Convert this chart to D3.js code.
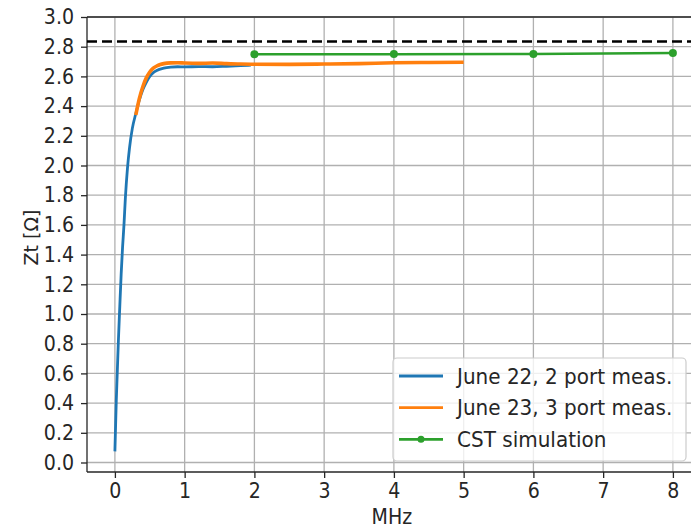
<!DOCTYPE html>
<html>
<head>
<meta charset="utf-8">
<script src="https://cdn.jsdelivr.net/npm/d3@7"></script>
<style>
  html, body { margin: 0; padding: 0; background: #fff; }
  svg { display: block; }
  text { font-family: "DejaVu Sans", sans-serif; fill: #262626; transform-box: fill-box; transform-origin: center; }
  .st { transform: scaleY(1.1); }
</style>
</head>
<body>
<svg id="chart" width="691" height="529"></svg>
<script>
// ---- data ----
const blueX = [0.00, 0.01, 0.02, 0.035, 0.05, 0.07, 0.09, 0.11, 0.13, 0.15, 0.18, 0.21, 0.25, 0.30, 0.35, 0.40, 0.45, 0.50, 0.55, 0.60, 0.70, 0.80, 0.90, 1.00, 1.20, 1.40, 1.60, 1.80, 1.95];
const blueY = [0.075, 0.25, 0.42, 0.62, 0.82, 1.05, 1.27, 1.45, 1.60, 1.78, 1.98, 2.12, 2.25, 2.35, 2.44, 2.51, 2.56, 2.60, 2.625, 2.64, 2.655, 2.662, 2.665, 2.664, 2.666, 2.665, 2.668, 2.672, 2.676];
const orangeX = [0.30, 0.35, 0.40, 0.45, 0.50, 0.55, 0.60, 0.65, 0.70, 0.80, 0.90, 1.00, 1.20, 1.40, 1.60, 1.80, 2.00, 2.50, 3.00, 3.50, 4.00, 4.50, 5.00];
const orangeY = [2.34, 2.45, 2.53, 2.59, 2.63, 2.655, 2.67, 2.68, 2.686, 2.691, 2.692, 2.690, 2.688, 2.690, 2.686, 2.683, 2.682, 2.681, 2.683, 2.686, 2.692, 2.694, 2.695];
const cstX = [2, 4, 6, 8];
const cstY = [2.749, 2.750, 2.751, 2.757];
const refLevel = 2.835;
const xTicks = [0, 1, 2, 3, 4, 5, 6, 7, 8];
const yTicks = [0.0, 0.2, 0.4, 0.6, 0.8, 1.0, 1.2, 1.4, 1.6, 1.8, 2.0, 2.2, 2.4, 2.6, 2.8, 3.0];
const seriesNames = ["June 22, 2 port meas.", "June 23, 3 port meas.", "CST simulation"];
const seriesColors = ["#1f77b4", "#ff7f0e", "#2ca02c"];

// ---- layout ----
const svg = d3.select("#chart");
const L = 87, R = 700.8, T = 17, B = 472;
const x = d3.scaleLinear().domain([-0.4, 8.4]).range([L, R]);
const y = d3.scaleLinear().domain([-0.064, 3.0]).range([B, T]);
const fs = 19;

// grid
const grid = svg.append("g");
grid.selectAll(".gx").data(xTicks).enter().append("line")
  .attr("x1", d => x(d)).attr("x2", d => x(d)).attr("y1", T).attr("y2", B)
  .attr("stroke", "#b0b0b0").attr("stroke-width", 1.3);
grid.selectAll(".gy").data(yTicks).enter().append("line")
  .attr("x1", L).attr("x2", R).attr("y1", d => y(d)).attr("y2", d => y(d))
  .attr("stroke", "#b0b0b0").attr("stroke-width", 1.3);

// axes
const xAxis = svg.append("g").attr("transform", `translate(0,${B})`)
  .call(d3.axisBottom(x).tickValues(xTicks).tickFormat(d3.format("d")).tickSize(6).tickPadding(6));
const yAxis = svg.append("g").attr("transform", `translate(${L},0)`)
  .call(d3.axisLeft(y).tickValues(yTicks).tickFormat(d3.format(".1f")).tickSize(6).tickPadding(7));
[xAxis, yAxis].forEach(a => {
  a.select(".domain").remove();
  a.selectAll(".tick line").attr("stroke", "#262626").attr("stroke-width", 1.3);
  a.selectAll(".tick text").attr("font-size", fs).attr("font-family", "DejaVu Sans").attr("fill", "#262626").attr("class", "st");
});

// spines
svg.append("line").attr("x1", L).attr("x2", L).attr("y1", T).attr("y2", B).attr("stroke", "#262626").attr("stroke-width", 1.3);
svg.append("line").attr("x1", L).attr("x2", R).attr("y1", B).attr("y2", B).attr("stroke", "#262626").attr("stroke-width", 1.3);
svg.append("line").attr("x1", L).attr("x2", R).attr("y1", T).attr("y2", T).attr("stroke", "#262626").attr("stroke-width", 1.3);

// dashed reference line
svg.append("line").attr("x1", L).attr("x2", R).attr("y1", y(refLevel)).attr("y2", y(refLevel))
  .attr("stroke", "#000").attr("stroke-width", 2.5).attr("stroke-dasharray", "10,5");

const line = d3.line().x(d => x(d[0])).y(d => y(d[1])).curve(d3.curveMonotoneX);
const blue = blueX.map((v, i) => [v, blueY[i]]);
const orange = orangeX.map((v, i) => [v, orangeY[i]]);
const cst = cstX.map((v, i) => [v, cstY[i]]);

svg.append("path").datum(blue).attr("d", line).attr("fill", "none")
  .attr("stroke", seriesColors[0]).attr("stroke-width", 2.8);
svg.append("path").datum(orange).attr("d", line).attr("fill", "none")
  .attr("stroke", seriesColors[1]).attr("stroke-width", 3.6);
svg.append("path").datum(cst).attr("d", d3.line().x(d => x(d[0])).y(d => y(d[1]))).attr("fill", "none")
  .attr("stroke", seriesColors[2]).attr("stroke-width", 2.5);
svg.selectAll(".cstpt").data(cst).enter().append("circle")
  .attr("cx", d => x(d[0])).attr("cy", d => y(d[1])).attr("r", 4)
  .attr("fill", seriesColors[2]);

// axis labels
svg.append("text").attr("class", "st").attr("x", (L + R) / 2 - 2).attr("y", 523).attr("text-anchor", "middle")
  .attr("font-size", fs).text("MHz");
svg.append("text").attr("transform", `translate(31,${(T + B) / 2}) rotate(-90)`).attr("text-anchor", "middle")
  .attr("font-size", fs).text("Zt [Ω]");

// legend
const lg = svg.append("g");
lg.append("rect").attr("x", 393).attr("y", 358).attr("width", 293).attr("height", 103)
  .attr("rx", 4).attr("fill", "#fff").attr("fill-opacity", 0.8)
  .attr("stroke", "#cccccc").attr("stroke-width", 1.2);
const rowsY = [376, 407.7, 439.3];
seriesNames.forEach((name, i) => {
  lg.append("line").attr("x1", 399).attr("x2", 443).attr("y1", rowsY[i]).attr("y2", rowsY[i])
    .attr("stroke", seriesColors[i]).attr("stroke-width", 2.8);
  if (i === 2) {
    lg.append("circle").attr("cx", 421).attr("cy", rowsY[i]).attr("r", 3.5).attr("fill", seriesColors[i]);
  }
  lg.append("text").attr("class", "st").attr("x", 457).attr("y", rowsY[i] + 7).attr("font-size", 20).text(name);
});
</script>
</body>
</html>
